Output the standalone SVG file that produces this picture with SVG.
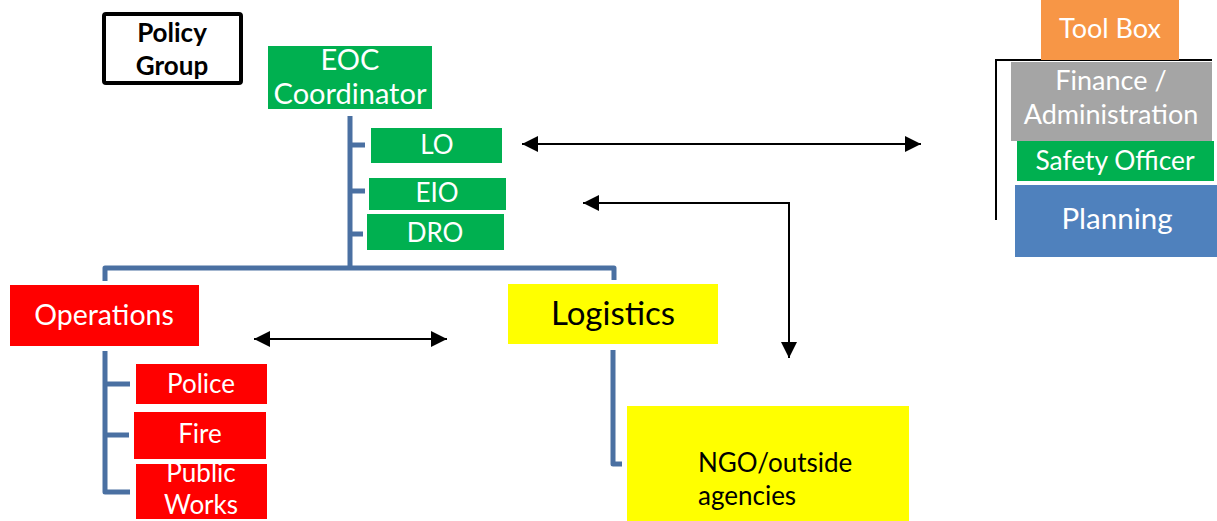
<svg xmlns="http://www.w3.org/2000/svg" width="1217" height="521" viewBox="0 0 1217 521">
<defs>
<style>
.t{font-family:Lato,"Open Sans","Liberation Sans",sans-serif;text-anchor:middle;fill:#fff}
.g{fill:#00B050}
.r{fill:#FF0000}
.y{fill:#FFFF00}
.tree{fill:none;stroke:#4A70A2;stroke-width:5;stroke-linejoin:round}
.arr{fill:none;stroke:#000;stroke-width:2}
</style>
<marker id="ah" viewBox="0 0 10 10" refX="10" refY="5" markerWidth="8" markerHeight="8" markerUnits="strokeWidth" orient="auto-start-reverse">
<path d="M0,0 L10,5 L0,10 Z" fill="#000"/>
</marker>
</defs>
<rect width="1217" height="521" fill="#fff"/>
<g id="connectors">
<path class="tree" d="M350,116 V266 M105,281 V268 H614 V280"/>
<path class="tree" d="M350,145 H365 M350,191 H365 M350,234 H363"/>
<path class="tree" d="M105,351 V492 H130 M105,384 H130 M105,435 H129"/>
<path class="tree" d="M613,350 V464 H622"/>
<path class="arr" d="M522,144 H921" marker-start="url(#ah)" marker-end="url(#ah)"/>
<path class="arr" d="M583,203 H789 V358" marker-start="url(#ah)" marker-end="url(#ah)"/>
<path class="arr" d="M254,339 H447" marker-start="url(#ah)" marker-end="url(#ah)"/>
<path d="M1212,60 H996 V220" fill="none" stroke="#000" stroke-width="2"/>
</g>
<g id="policy">
<rect x="104" y="14" width="137" height="69" rx="2" fill="#fff" stroke="#000" stroke-width="4"/>
<text class="t" x="172" y="42" font-size="26" font-weight="bold" style="fill:#000">Policy</text>
<text class="t" x="172" y="75" font-size="26" font-weight="bold" style="fill:#000">Group</text>
</g>
<g id="eoc">
<rect class="g" x="268" y="46" width="164" height="63"/>
<text class="t" x="350" y="70" font-size="29">EOC</text>
<text class="t" x="350" y="104" font-size="29">Coordinator</text>
</g>
<g id="lo">
<rect class="g" x="371" y="128" width="131" height="35"/>
<text class="t" x="437" y="154" font-size="26">LO</text>
</g>
<g id="eio">
<rect class="g" x="369" y="178" width="137" height="32"/>
<text class="t" x="437" y="202" font-size="26">EIO</text>
</g>
<g id="dro">
<rect class="g" x="367" y="214" width="137" height="36"/>
<text class="t" x="435" y="242" font-size="26">DRO</text>
</g>
<g id="operations">
<rect class="r" x="10" y="285" width="189" height="61"/>
<text class="t" x="104" y="325" font-size="28.5">Operations</text>
</g>
<g id="police">
<rect class="r" x="136" y="364" width="131" height="40"/>
<text class="t" x="201" y="393" font-size="26">Police</text>
</g>
<g id="fire">
<rect class="r" x="134" y="412" width="132" height="47"/>
<text class="t" x="200" y="443" font-size="26">Fire</text>
</g>
<g id="publicworks">
<rect class="r" x="136" y="464" width="131" height="55"/>
<text class="t" x="201" y="482" font-size="26">Public</text>
<text class="t" x="201" y="514" font-size="26">Works</text>
</g>
<g id="logistics">
<rect class="y" x="508" y="284" width="210" height="60"/>
<text class="t" x="613" y="325" font-size="33" style="fill:#000">Logistics</text>
</g>
<g id="ngo">
<rect class="y" x="627" y="406" width="282" height="115"/>
<text class="t" x="698" y="472" font-size="26" style="fill:#000;text-anchor:start">NGO/outside</text>
<text class="t" x="698" y="505" font-size="26" style="fill:#000;text-anchor:start">agencies</text>
</g>
<g id="toolbox">
<rect x="1041" y="0" width="138" height="60" fill="#F79646"/>
<text class="t" x="1110" y="38" font-size="27">Tool Box</text>
</g>
<g id="finance">
<rect x="1011" y="62" width="201" height="79" fill="#A5A5A5"/>
<text class="t" x="1111" y="90" font-size="27">Finance /</text>
<text class="t" x="1111" y="124" font-size="27">Administration</text>
</g>
<g id="safety">
<rect class="g" x="1017" y="141" width="197" height="40"/>
<text class="t" x="1115" y="170" font-size="26.4">Safety Officer</text>
</g>
<g id="planning">
<rect x="1015" y="185" width="202" height="72" fill="#4F81BD"/>
<text class="t" x="1117" y="229" font-size="29.5">Planning</text>
</g>
</svg>
